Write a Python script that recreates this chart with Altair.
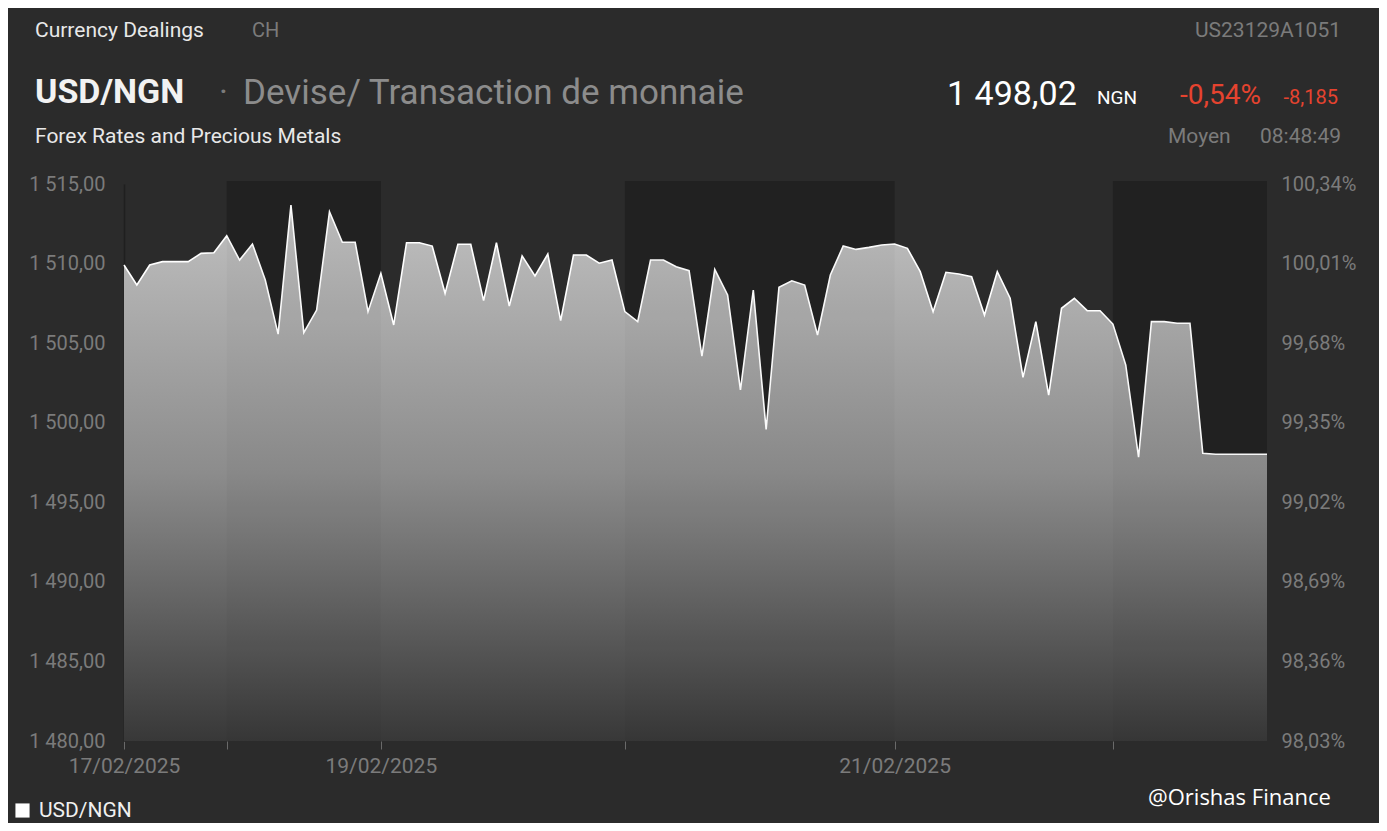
import altair as alt
import pandas as pd

# ---------------- data ----------------
rates = [1509.91, 1508.65, 1509.91, 1510.12, 1510.12, 1510.12, 1510.64, 1510.68, 1511.75, 1510.22,
         1511.23, 1508.97, 1505.57, 1513.68, 1505.66, 1507.08, 1513.26, 1511.34, 1511.34, 1506.98,
         1509.39, 1506.14, 1511.31, 1511.31, 1511.10, 1508.13, 1511.21, 1511.21, 1507.67, 1511.31,
         1507.33, 1510.48, 1509.22, 1510.60, 1506.41, 1510.54, 1510.54, 1510.02, 1510.22, 1506.98,
         1506.35, 1510.22, 1510.22, 1509.80, 1509.55, 1504.19, 1509.64, 1508.03, 1502.06, 1508.34,
         1499.58, 1508.51, 1508.92, 1508.65, 1505.51, 1509.28, 1511.10, 1510.89, 1511.02, 1511.17,
         1511.23, 1510.96, 1509.49, 1506.98, 1509.45, 1509.34, 1509.17, 1506.77, 1509.49, 1507.82,
         1502.85, 1506.35, 1501.74, 1507.19, 1507.82, 1507.04, 1507.04, 1506.20, 1503.63, 1497.83,
         1506.35, 1506.35, 1506.25, 1506.25, 1498.08, 1498.02, 1498.02, 1498.02, 1498.02, 1498.02]
series_name = "USD/NGN"

session_starts = [0, 8, 20, 39, 60, 77]
session_labels = ["17/02/2025", "", "19/02/2025", "", "21/02/2025", ""]

shaded_start = [8, 39, 77]
shaded_end = [20, 60, 89]

y_min, y_max = 1480, 1515
left_ticks = [1480, 1485, 1490, 1495, 1500, 1505, 1510, 1515]
right_labels = ["98,03%", "98,36%", "98,69%", "99,02%", "99,35%", "99,68%", "100,01%", "100,34%"]

# ---------------- tables ----------------
df = pd.DataFrame({"idx": list(range(len(rates))), "rate": rates, "series": series_name})
bands = pd.DataFrame({"start": shaded_start, "end": shaded_end})

W, H = 1143, 557
GRAY = "#7b7b7b"
FONT = "Roboto"
AX = 20


def ternary(field, keys, labels):
    expr = "''"
    for k, lab in reversed(list(zip(keys, labels))):
        expr = f"{field} == {k} ? '{lab}' : ({expr})"
    return expr


x_axis = alt.Axis(values=session_starts, labelExpr=ternary("datum.value", session_starts, session_labels),
                  title=None, grid=False, domain=False, ticks=True, tickSize=8, tickColor="#6a6a6a",
                  tickWidth=1, labelColor=GRAY, labelFontSize=21, labelFont=FONT, labelPadding=6,
                  labelOverlap=False, labelFlush=False, labelAlign="center")
x_scale = alt.Scale(domain=[0, len(rates) - 1], nice=False, zero=False)
y_scale = alt.Scale(domain=[y_min, y_max], nice=False, zero=False)

left_axis = alt.Axis(values=left_ticks, orient="left", title=None, grid=False, ticks=False,
                     domain=True, domainColor="#1f1f1f", domainWidth=1.5,
                     labelExpr="replace(replace(format(datum.value, ',.2f'), ',', ' '), '.', ',')",
                     labelColor=GRAY, labelFontSize=AX, labelFont=FONT, labelPadding=19, labelFlush=False)
right_axis = alt.Axis(values=left_ticks, orient="right", title=None, grid=False, ticks=False,
                      domain=False, labelExpr=ternary("datum.value", left_ticks, right_labels),
                      labelColor=GRAY, labelFontSize=AX, labelFont=FONT, labelPadding=14, labelFlush=False)

bands_under = alt.Chart(bands).mark_rect(color="#222222").encode(
    x=alt.X("start:Q", scale=x_scale, axis=x_axis),
    x2="end:Q",
    y=alt.value(-3), y2=alt.value(H),
)

area = alt.Chart(df).mark_area(
    color=alt.Gradient(gradient="linear",
                       stops=[alt.GradientStop(color="#c0c0c0", offset=0),
                              alt.GradientStop(color="#8c8c8c", offset=0.5),
                              alt.GradientStop(color="#383838", offset=1)],
                       x1=1, x2=1, y1=0, y2=1),
).encode(
    x=alt.X("idx:Q", scale=x_scale, axis=x_axis),
    y=alt.Y("rate:Q", scale=y_scale, axis=left_axis),
    y2=alt.datum(y_min),
)

line = alt.Chart(df).mark_line(strokeWidth=1.6).encode(
    x=alt.X("idx:Q", scale=x_scale, axis=x_axis),
    y=alt.Y("rate:Q", scale=y_scale, axis=right_axis),
    color=alt.Color("series:N", scale=alt.Scale(range=["#ffffff"]),
                    legend=alt.Legend(title=None, orient="none", legendX=-112, legendY=616,
                                      symbolType="square", symbolSize=200, symbolFillColor="#ffffff",
                                      symbolStrokeColor="#ffffff", symbolStrokeWidth=0, symbolOpacity=1,
                                      labelColor="#f0f0f0", labelFontSize=21, labelFont=FONT,
                                      labelOffset=6)),
)

bands_over = alt.Chart(bands).mark_rect(color="#000000", opacity=0.025).encode(
    x=alt.X("start:Q", scale=x_scale, axis=x_axis),
    x2="end:Q",
    y=alt.value(-3), y2=alt.value(H),
)


def txt(s, x, y, size, color, weight="normal", align="left", font=FONT):
    return alt.Chart(alt.Data(values=[{}])).mark_text(
        text=s, align=align, baseline="middle", fontSize=size, color=color,
        fontWeight=weight, font=font,
    ).encode(x=alt.value(x), y=alt.value(y))


RED = "#e5432f"
texts = [
    txt("Currency Dealings", -89, -153, 21, "#e8e8e8"),
    txt("CH", 128, -153, 20, GRAY),
    txt("US23129A1051", 1217, -153, 21, GRAY, align="right"),
    txt("USD/NGN", -89, -91, 34, "#f2f2f2", weight="bold"),
    txt("·", 95, -91, 34, GRAY),
    txt("Devise/ Transaction de monnaie", 119, -91, 35, "#8c8c8c"),
    txt("1 498,02", 823, -89, 34, "#ffffff"),
    txt("NGN", 973, -86, 19, "#ffffff"),
    txt("-0,54%", 1056, -88, 28, RED),
    txt("-8,185", 1214, -86, 20, RED, align="right"),
    txt("Forex Rates and Precious Metals", -89, -47, 21, "#e8e8e8"),
    txt("Moyen", 1044, -47, 21, GRAY),
    txt("08:48:49", 1217, -47, 21, GRAY, align="right"),
    txt("@Orishas Finance", 1024, 614, 22, "#ffffff", font="Open Sans"),
]

chart = alt.layer(bands_under, area, line, bands_over, *texts).resolve_scale(
    y="shared"
).resolve_axis(
    y="independent"
).properties(
    width=W, height=H, autosize="none", background="#2b2b2b",
    padding={"left": 116, "top": 176, "right": 112, "bottom": 82},
).configure_view(stroke=None)

chart.save("out.html", embed_options={"renderer": "svg", "actions": False})
